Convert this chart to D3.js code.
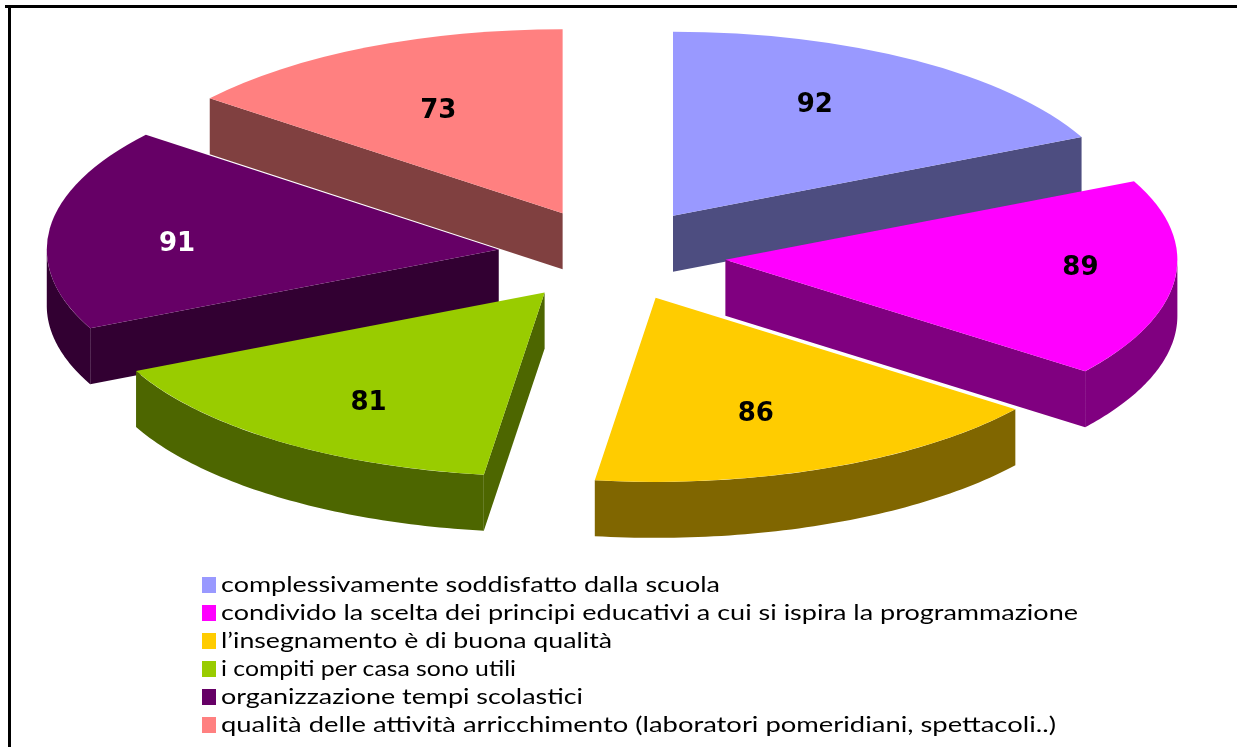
<!DOCTYPE html>
<html>
<head>
<meta charset="utf-8">
<script src="https://d3js.org/d3.v7.min.js"></script>
<style>
  html, body { margin: 0; padding: 0; background: #fff; overflow: hidden; }
  svg { display: block; }
</style>
</head>
<body>
<div id="chart"></div>
<script>
const categories = [
    "complessivamente soddisfatto dalla scuola",
    "condivido la scelta dei principi educativi a cui si ispira la programmazione",
    "l’insegnamento è di buona qualità",
    "i compiti per casa sono utili",
    "organizzazione tempi scolastici",
    "qualità delle attività arricchimento (laboratori pomeridiani, spettacoli..)"
];
const values = [92, 89, 86, 81, 91, 73];
const topColors = ["#9999ff", "#ff00ff", "#ffcc00", "#99cc00", "#660066", "#ff8080"];
const wallColors = ["#4d4d80", "#800080", "#806600", "#4d6600", "#330033", "#804040"];
const labelColors = ["#000", "#000", "#000", "#000", "#fff", "#000"];

// where the value labels sit, as ellipse radii around the pie centre
const labelRx = [379, 471, 376, 412, 438, 401];
const labelRy = [180, 108, 170, 181, 111, 162];
// painter's order, back slices first
const drawOrder = [5, 0, 4, 1, 3, 2];

const width = 1237, height = 747;
const cx = 612, cy = 255, rx = 452, ry = 184, depth = 56, explode = 114;

const svg = d3.select("#chart").append("svg")
    .attr("width", width)
    .attr("height", height);

svg.append("defs").append("filter").attr("id", "soft")
    .attr("x", "-5%").attr("y", "-5%").attr("width", "110%").attr("height", "110%")
    .append("feGaussianBlur").attr("stdDeviation", 0.7);

// frame, only top and left are visible in the picture
svg.append("rect").attr("x", 5).attr("y", 5).attr("width", width - 5).attr("height", 3).attr("fill", "#000");
svg.append("rect").attr("x", 8).attr("y", 8).attr("width", 3).attr("height", height - 8).attr("fill", "#000");

const slices = d3.pie().sort(null).value(d => d)(values);
const topArc = d3.arc().innerRadius(0).outerRadius(rx);
const line = d3.line();

const pie = svg.append("g").attr("filter", "url(#soft)");

function point(ox, oy, a, dy = 0) {
    return [ox + rx * Math.sin(a), oy - ry * Math.cos(a) + dy];
}

drawOrder.forEach(i => {
    const s = slices[i];
    const mid = (s.startAngle + s.endAngle) / 2;
    const ox = cx + explode * Math.sin(mid);
    const oy = cy - explode * (ry / rx) * Math.cos(mid);
    const g = pie.append("g");

    // flat walls along the two cut edges, only when they face the viewer
    const edges = [];
    if (Math.sin(s.startAngle) < -0.001) edges.push(s.startAngle);
    if (Math.sin(s.endAngle) > 0.001) edges.push(s.endAngle);
    edges.forEach(a => {
        const p = point(ox, oy, a);
        g.append("path")
            .attr("d", line([[ox, oy], p, [p[0], p[1] + depth], [ox, oy + depth]]) + "Z")
            .attr("fill", wallColors[i]);
    });

    // curved outer wall on the front half of the ellipse
    const a0 = Math.max(s.startAngle, Math.PI / 2);
    const a1 = Math.min(s.endAngle, Math.PI * 1.5);
    if (a1 > a0) {
        const steps = d3.range(0, 61).map(k => a0 + (a1 - a0) * k / 60);
        const outline = steps.map(a => point(ox, oy, a))
            .concat(steps.slice().reverse().map(a => point(ox, oy, a, depth)));
        g.append("path").attr("d", line(outline) + "Z").attr("fill", wallColors[i]);
    }

    g.append("path")
        .attr("transform", `translate(${ox},${oy}) scale(1,${ry / rx})`)
        .attr("d", topArc(s))
        .attr("fill", topColors[i]);
});

// value labels
const labels = svg.append("g").attr("filter", "url(#soft)");
slices.forEach((s, i) => {
    const mid = (s.startAngle + s.endAngle) / 2;
    labels.append("text")
        .attr("x", cx + labelRx[i] * Math.sin(mid))
        .attr("y", cy - labelRy[i] * Math.cos(mid))
        .attr("text-anchor", "middle")
        .attr("dominant-baseline", "central")
        .attr("font-family", "'DejaVu Sans', sans-serif")
        .attr("font-weight", "bold")
        .attr("font-size", 26)
        .attr("fill", labelColors[i])
        .text(values[i]);
});

// legend
const legendY = d3.scalePoint().domain(d3.range(categories.length)).range([585, 725]);
const legendWidths = [499, 857, 391, 295, 362, 835];
const legend = svg.append("g").attr("filter", "url(#soft)");
categories.forEach((c, i) => {
    legend.append("rect")
        .attr("x", 202).attr("y", legendY(i) - 8)
        .attr("width", 14).attr("height", 16)
        .attr("fill", topColors[i]);
    legend.append("text")
        .attr("x", 221).attr("y", legendY(i) + 7)
        .attr("font-family", "'Lato', sans-serif")
        .attr("font-size", 21)
        .attr("textLength", legendWidths[i])
        .attr("lengthAdjust", "spacingAndGlyphs")
        .attr("fill", "#000")
        .text(c);
});
</script>
</body>
</html>
